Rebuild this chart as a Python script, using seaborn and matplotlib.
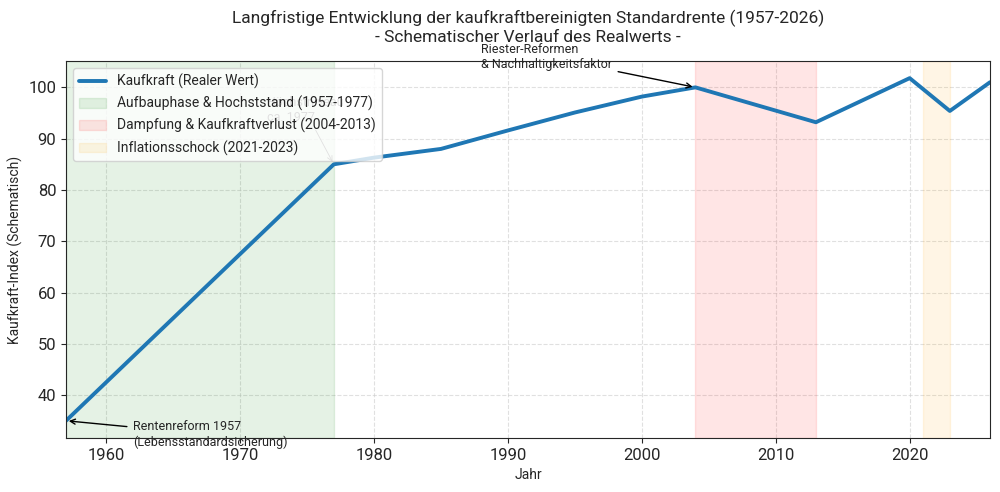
import matplotlib
matplotlib.use("Agg")
import matplotlib.pyplot as plt
import seaborn as sns
import pandas as pd

years = [1957, 1960, 1965, 1970, 1975, 1977, 1980, 1985, 1990, 1995, 2000, 2004, 2013, 2020, 2023, 2026]
kaufkraft = [35, 42.5, 55, 67.5, 80, 85, 86.3, 88, 91.6, 95.1, 98.2, 100, 93.2, 101.8, 95.4, 101]

sns.set_style("ticks")
plt.rcParams['font.family'] = ['Roboto', 'DejaVu Sans']

df = pd.DataFrame({"Jahr": years, "Kaufkraft": kaufkraft})

fig, ax = plt.subplots(figsize=(10, 4.92), dpi=100)
sns.lineplot(data=df, x="Jahr", y="Kaufkraft", ax=ax, color="#1f77b4", linewidth=2.8,
             label="Kaufkraft (Realer Wert)")
ax.axvspan(1957, 1977, color="green", alpha=0.1, label="Aufbauphase & Hochststand (1957-1977)")
ax.axvspan(2004, 2013, color="red", alpha=0.1, label="Dampfung & Kaufkraftverlust (2004-2013)")
ax.axvspan(2021, 2023, color="orange", alpha=0.1, label="Inflationsschock (2021-2023)")

ax.annotate("Rentenreform 1957\n(Lebensstandardsicherung)", xy=(1957, 35), xytext=(1962, 32.3),
            fontsize=9, va="center", arrowprops=dict(arrowstyle="->", color="black", lw=1))
ax.annotate("Höchstniveau\nca. 1977", xy=(1977, 85), xytext=(1972, 95.5),
            fontsize=9, va="center", color="#666666",
            arrowprops=dict(arrowstyle="->", color="#666666", lw=0.6))
ax.annotate("Riester-Reformen\n& Nachhaltigkeitsfaktor", xy=(2004, 100), xytext=(1988, 105.9),
            fontsize=9, va="center", annotation_clip=False,
            arrowprops=dict(arrowstyle="->", color="black", lw=1))

ax.set_xlim(1957, 2026)
ax.set_title("Langfristige Entwicklung der kaufkraftbereinigten Standardrente (1957-2026)\n"
             "- Schematischer Verlauf des Realwerts -", fontsize=12.5, pad=14)
ax.set_xlabel("Jahr", fontsize=10)
ax.set_ylabel("Kaufkraft-Index (Schematisch)", fontsize=10)
ax.tick_params(labelsize=12)
ax.grid(True, linestyle="--", alpha=0.6)
ax.legend(loc="upper left", fontsize=10, framealpha=0.8)
fig.subplots_adjust(left=0.066, right=0.99, top=0.876, bottom=0.11)
fig.savefig("out.png", dpi=100)
